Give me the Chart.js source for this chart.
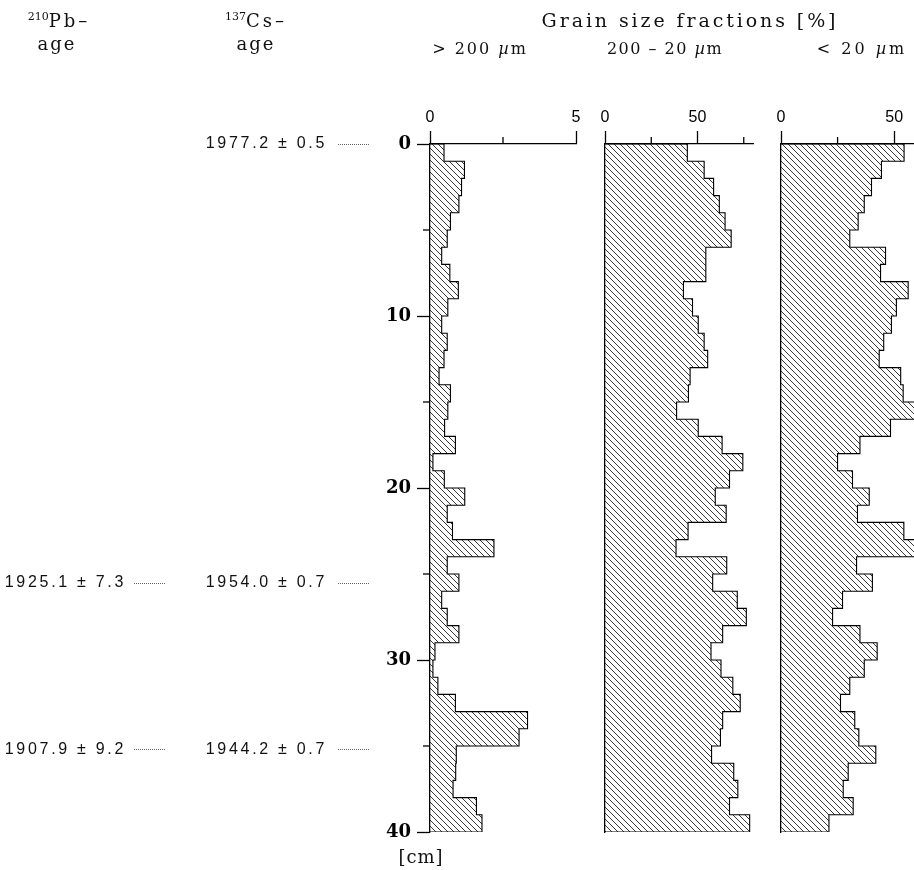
<!DOCTYPE html>
<html><head><meta charset="utf-8">
<script src="https://cdn.jsdelivr.net/npm/chart.js@4.4.0/dist/chart.umd.min.js"></script>
<style>
html,body{margin:0;padding:0;width:914px;height:870px;overflow:hidden;background:#fff;position:relative;}
canvas{position:absolute;top:0;}
.t{position:absolute;white-space:nowrap;color:#111;font-family:'DejaVu Serif';font-size:17px;transform:translate(-50%,-50%);letter-spacing:1.5px;}
.t sup{font-size:11px;vertical-align:7px;letter-spacing:0;}
</style></head><body>
<canvas id="c1" width="600" height="870" style="left:0"></canvas>
<canvas id="c2" width="180" height="870" style="left:590px"></canvas>
<canvas id="c3" width="200" height="870" style="left:770px"></canvas>
<div class="t" style="left:59px;top:20px;font-size:18px;letter-spacing:3px"><sup>210</sup>Pb–</div>
<div class="t" style="left:57px;top:43px;font-size:18px;letter-spacing:2px">age</div>
<div class="t" style="left:256px;top:20px;font-size:18px;letter-spacing:3px"><sup>137</sup>Cs–</div>
<div class="t" style="left:256px;top:43px;font-size:18px;letter-spacing:2px">age</div>
<div class="t" style="left:690px;top:20px;font-size:19px;letter-spacing:2.9px">Grain size fractions [%]</div>
<div class="t" style="left:480px;top:48px;font-size:16px;letter-spacing:2px">&gt; 200 <i>µ</i>m</div>
<div class="t" style="left:665px;top:48px;font-size:16px;letter-spacing:1.5px">200 – 20 <i>µ</i>m</div>
<div class="t" style="left:862px;top:48px;font-size:16px;letter-spacing:3px">&lt; 20 <i>µ</i>m</div>
<div class="t" style="left:421px;top:856px;font-size:18px;letter-spacing:1px">[cm]</div>
<script>
// depth of the top of each 1-cm interval
const depthTop = [0,1,2,3,4,5,6,7,8,9,10,11,12,13,14,15,16,17,18,19,20,21,22,23,24,25,26,27,28,29,30,31,32,33,34,35,36,37,38,39];
// > 200 µm [%]
const coarse = [0.48,1.18,1.08,0.99,0.70,0.59,0.40,0.68,0.97,0.61,0.40,0.59,0.48,0.31,0.70,0.61,0.50,0.87,0.10,0.49,1.19,0.59,0.77,2.19,0.59,0.99,0.40,0.59,0.99,0.17,0.10,0.27,0.87,3.34,3.05,0.90,0.88,0.79,1.59,1.78];
// 200 - 20 µm [%]
const silt = [44.5,53.6,58.7,61.8,64.9,68.2,54.5,54.5,42.4,47.3,50.4,53.6,55.5,46.0,45.1,38.7,50.4,63.3,74.5,67.3,59.6,65.5,44.9,38.4,65.8,58.2,71.5,76.4,63.6,57.3,62.7,69.1,73.1,63.6,62.4,57.6,69.6,71.8,67.3,78.2];
// < 20 µm [%]
const clay = [54.4,44.4,40.0,36.8,34.1,30.4,46.2,44.0,56.2,51.0,48.8,45.4,43.4,52.9,54.0,60.0,48.4,34.9,25.0,31.6,39.0,33.8,54.3,59.5,33.4,40.4,27.2,22.8,34.9,42.5,36.8,30.4,26.3,32.6,34.4,41.9,29.7,27.5,31.9,21.2];
// tick labels
const depthTicks = [0,10,20,30,40];
const depthMinor = [5,15,25,35];
const coarseTicks = [0,5];
const coarseMinor = [2.5];
const pctTicks = [0,50];
const pctMinor = [25,75];
// dating annotations
const ageDepth = [0,25.5,35.2];
const csAge = ['1977.2 ± 0.5','1954.0 ± 0.7','1944.2 ± 0.7'];
const pbAge = ['','1925.1 ± 7.3','1907.9 ± 9.2'];

function stepPoints(vals){
  const pts=[{x:0,y:depthTop[0]}];
  vals.forEach((v,i)=>{pts.push({x:v,y:depthTop[i]});pts.push({x:v,y:depthTop[i]+1});});
  pts.push({x:0,y:depthTop[vals.length-1]+1});
  return pts;
}
function hatch(){
  const s=6;const c=document.createElement('canvas');c.width=s;c.height=s;
  const g=c.getContext('2d');g.strokeStyle='#222';g.lineWidth=0.9;g.beginPath();
  for(const k of [-1,0,1]){g.moveTo(k*s,0);g.lineTo(k*s+s,s);}
  g.stroke();return g.createPattern(c,'repeat');
}
const minorTicks={id:'minorTicks',afterDraw(chart,args,o){
  const ctx=chart.ctx,xs=chart.scales.x,ys=chart.scales.y,a=chart.chartArea;
  ctx.save();ctx.strokeStyle='#000';ctx.lineWidth=1.3;
  (o.x||[]).forEach(v=>{const p=xs.getPixelForValue(v);ctx.beginPath();ctx.moveTo(p,a.top);ctx.lineTo(p,a.top-o.len);ctx.stroke();});
  (o.y||[]).forEach(v=>{const p=ys.getPixelForValue(v);ctx.beginPath();ctx.moveTo(a.left,p);ctx.lineTo(a.left-o.len,p);ctx.stroke();});
  ctx.restore();
}};
const ages={id:'ages',afterDraw(chart,args,o){
  const ctx=chart.ctx,ys=chart.scales.y;
  ctx.save();ctx.font='16px "Liberation Sans"';ctx.fillStyle='#111';ctx.textAlign='right';ctx.textBaseline='middle';
  try{ctx.letterSpacing='2.7px';}catch(e){}
  ageDepth.forEach((d,i)=>{
    const y=ys.getPixelForValue(d);
    const items=[[csAge[i],o.csRight,o.csLead],[pbAge[i],o.pbRight,o.pbLead]];
    items.forEach(([txt,xr,lead])=>{
      if(!txt)return;
      ctx.fillText(txt,xr,y);
      ctx.save();ctx.strokeStyle='#666';ctx.lineWidth=1;ctx.setLineDash([1,1]);
      ctx.beginPath();ctx.moveTo(lead[0],Math.round(y)+0.5);ctx.lineTo(lead[1],Math.round(y)+0.5);ctx.stroke();ctx.restore();
    });
  });
  ctx.restore();
}};
function panel(id,vals,o){
  return new Chart(document.getElementById(id),{
    type:'line',
    data:{datasets:[{data:stepPoints(vals),borderColor:'#000',borderWidth:1.1,backgroundColor:hatch(),fill:'shape',pointRadius:0,tension:0}]},
    options:{
      responsive:false,animation:false,devicePixelRatio:1,
      layout:{padding:o.pad},
      plugins:{legend:{display:false},tooltip:{enabled:false},
        minorTicks:{x:o.minorX,y:o.minorY,len:7},
        ages:o.ages||false},
      scales:{
        x:{type:'linear',position:'top',min:0,max:o.xMax,
          afterBuildTicks:s=>{s.ticks=o.xTicks.map(v=>({value:v}));},
          afterFit:s=>{s.height=40;},
          grid:{drawOnChartArea:false,drawTicks:true,tickLength:13,tickColor:'#000',tickWidth:1.3},
          border:{display:true,color:'#000',width:1.3},
          ticks:{color:'#000',font:{family:'Liberation Sans',size:16},padding:4,maxRotation:0}},
        y:{type:'linear',reverse:true,min:0,max:40,
          afterBuildTicks:s=>{s.ticks=depthTicks.map(v=>({value:v}));},
          afterFit:s=>{s.width=o.yWidth;},
          grid:{display:o.yLabels,drawOnChartArea:false,drawTicks:true,tickLength:13,tickColor:'#000',tickWidth:1.3},
          border:{display:true,color:'#000',width:1.3},
          ticks:{display:o.yLabels,color:'#000',font:{family:'DejaVu Serif',size:18,weight:'bold'},padding:6}}
      }
    },
    plugins:[minorTicks,ages]
  });
}
panel('c1',coarse,{pad:{left:380,right:24,top:104,bottom:38},yWidth:50,yLabels:true,xMax:5,xTicks:coarseTicks,minorX:coarseMinor,minorY:depthMinor,
  ages:{csRight:327,csLead:[338,370],pbRight:126,pbLead:[134,166]}});
panel('c2',silt,{pad:{left:15,right:17,top:104,bottom:38},yWidth:0,yLabels:false,xMax:80,xTicks:pctTicks,minorX:pctMinor,minorY:[]});
panel('c3',clay,{pad:{left:11,right:8,top:104,bottom:38},yWidth:0,yLabels:false,xMax:80,xTicks:pctTicks,minorX:pctMinor,minorY:[]});
</script>
</body></html>
